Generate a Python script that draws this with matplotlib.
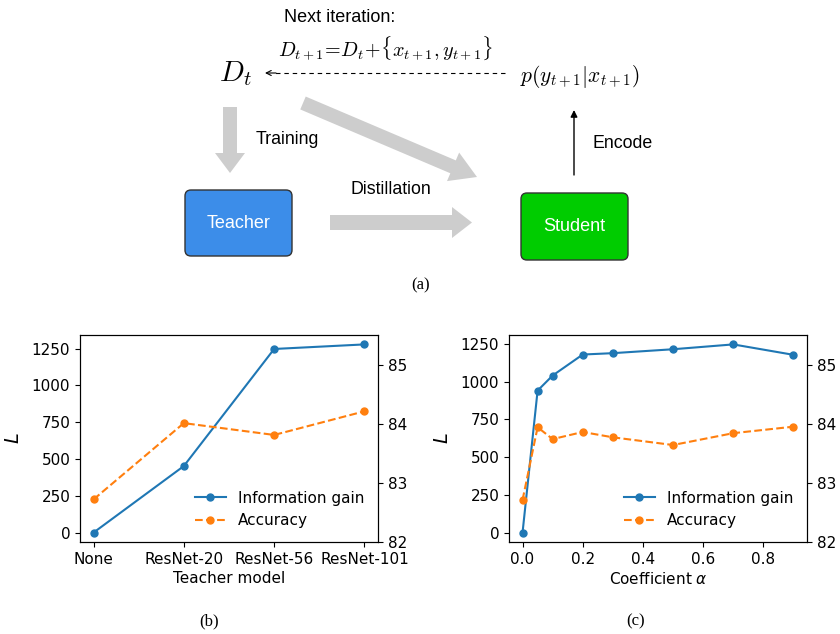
import matplotlib
matplotlib.use("Agg")
import matplotlib.pyplot as plt
from matplotlib.patches import FancyArrow, FancyBboxPatch

# ---- data -------------------------------------------------------------
teachers = ["None", "ResNet-20", "ResNet-56", "ResNet-101"]
teacher_info_gain = [0, 452, 1247, 1278]
teacher_accuracy = [82.72, 84.01, 83.81, 84.21]

alphas = [0.0, 0.05, 0.1, 0.2, 0.3, 0.5, 0.7, 0.9]
alpha_info_gain = [0, 940, 1040, 1179, 1188, 1214, 1246, 1177]
alpha_accuracy = [82.71, 83.94, 83.74, 83.86, 83.77, 83.64, 83.84, 83.95]

acc_ticks = [82, 83, 84, 85]
gain_ticks = [0, 250, 500, 750, 1000, 1250]

W, H = 840, 634
fig = plt.figure(figsize=(W / 100, H / 100), dpi=100)

# ---- schematic (a), drawn in pixel units ------------------------------
dax = fig.add_axes([0, 0, 1, 1])
dax.set_xlim(0, W)
dax.set_ylim(H, 0)
dax.axis("off")

sans = "Liberation Sans"
serif = "Liberation Serif"
gray = "#cdcdcd"

dax.text(284, 17, "Next iteration:", family=sans, fontsize=13,
         ha="left", va="center")
dax.text(386, 48, r"$D_{t+1}\!=\!D_t\!+\!\{x_{t+1},y_{t+1}\}$",
         math_fontfamily="cm", fontsize=14.5, ha="center", va="center")
dax.text(219, 74, r"$D_t$", math_fontfamily="cm", fontsize=21,
         ha="left", va="center")
dax.text(520, 77, r"$p(y_{t+1}|x_{t+1})$", math_fontfamily="cm",
         fontsize=15.5, ha="left", va="center")

# dashed feedback arrow
dax.plot([505, 272], [73, 73], color="black", lw=0.8, ls=(0, (4, 3.5)))
dax.annotate("", xy=(265, 73), xytext=(276, 73),
             arrowprops=dict(arrowstyle="->", lw=0.8, color="black",
                             shrinkA=0, shrinkB=0, mutation_scale=9))

# wide gray arrows
dax.add_patch(FancyArrow(230, 107, 0, 66, width=14, head_width=30,
                         head_length=20, length_includes_head=True,
                         color=gray, lw=0))
dax.add_patch(FancyArrow(303, 103, 174, 74, width=14, head_width=31,
                         head_length=26, length_includes_head=True,
                         color=gray, lw=0))
dax.add_patch(FancyArrow(330, 222.5, 142, 0, width=15, head_width=31,
                         head_length=20, length_includes_head=True,
                         color=gray, lw=0))

dax.text(256, 139, "Training", family=sans, fontsize=12.8, ha="left", va="center")
dax.text(350, 189, "Distillation", family=sans, fontsize=12.8, ha="left", va="center")
dax.text(593, 143, "Encode", family=sans, fontsize=12.8, ha="left", va="center")

# encode arrow
dax.annotate("", xy=(574, 110), xytext=(574, 175),
             arrowprops=dict(arrowstyle="-|>", lw=1.0, color="black",
                             shrinkA=0, shrinkB=0, mutation_scale=10))

# model boxes
for (x0, y0, w, h, fc, label) in [(185, 190, 107, 66, "#3c8de9", "Teacher"),
                                  (521, 193, 107, 67, "#00cc00", "Student")]:
    dax.add_patch(FancyBboxPatch((x0, y0), w, h,
                                 boxstyle="round,pad=0,rounding_size=6",
                                 fc=fc, ec="#333333", lw=1.0))
    dax.text(x0 + w / 2, y0 + h / 2, label, family=sans, fontsize=13,
             color="white", ha="center", va="center")

dax.text(421, 285, "(a)", family=serif, fontsize=12, ha="center", va="center")
dax.text(209, 621, "(b)", family=serif, fontsize=12, ha="center", va="center")
dax.text(636, 621, "(c)", family=serif, fontsize=12, ha="center", va="center")

# ---- line plots (b) and (c) -------------------------------------------
plt.rcParams["font.size"] = 11


def panel(rect, x, gain, acc, xlabel, xticklabels=None):
    ax = fig.add_axes(rect)
    l1, = ax.plot(x, gain, "-o", color="C0", lw=1.5, ms=5,
                  label="Information gain")
    ax.set_yticks(gain_ticks)
    ax.set_ylabel(r"$L$", fontsize=14, labelpad=6)
    ax.set_xlabel(xlabel, labelpad=3)
    if xticklabels is not None:
        ax.set_xticks(x)
        ax.set_xticklabels(xticklabels)
    ax2 = ax.twinx()
    l2, = ax2.plot(x, acc, "--o", color="C1", lw=1.5, ms=5, label="Accuracy")
    ax2.set_ylim(82, 85.5)
    ax2.set_yticks(acc_ticks)
    ax2.legend(handles=[l1, l2], loc="lower right", frameon=False,
               fontsize=11)
    return ax, ax2


bottom = (H - 542) / H
height = (542 - 335) / H
panel([80 / W, bottom, (378 - 80) / W, height],
      list(range(len(teachers))), teacher_info_gain, teacher_accuracy,
      "Teacher model", teachers)
panel([509 / W, bottom, (807 - 509) / W, height],
      alphas, alpha_info_gain, alpha_accuracy, r"Coefficient $\alpha$")

fig.savefig("out.png", dpi=100)
